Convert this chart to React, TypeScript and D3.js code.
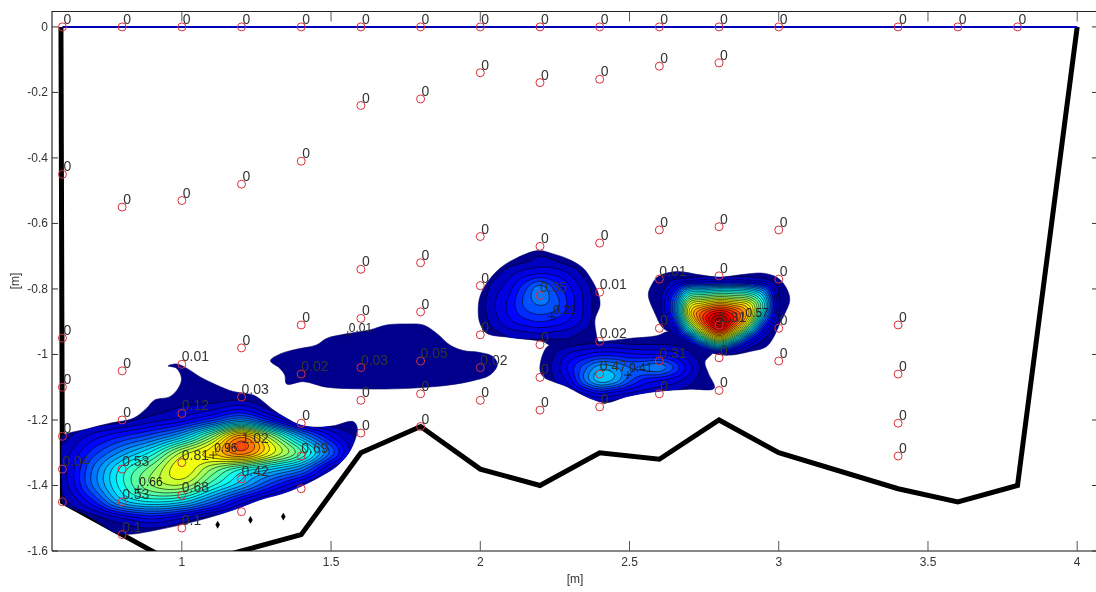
import React from "react";
import * as d3 from "d3";

const W = 1096, H = 592;
const xDomain = [0.565, 4.063];
const yDomain = [0.047, -1.6];
const xTicks = [1, 1.5, 2, 2.5, 3, 3.5, 4];
const xTickLabels = ["1", "1.5", "2", "2.5", "3", "3.5", "4"];
const yTicks = [0, -0.2, -0.4, -0.6, -0.8, -1, -1.2, -1.4, -1.6];
const yTickLabels = ["0", "-0.2", "-0.4", "-0.6", "-0.8", "-1", "-1.2", "-1.4", "-1.6"];

// section boundary
const wallX = [0.595, 0.6, 0.8, 1.0, 1.2, 1.4, 1.6, 1.8, 2.0, 2.2, 2.4, 2.6, 2.8, 3.0, 3.4, 3.6, 3.8, 4.0];
const wallY = [0, -1.45, -1.55, -1.65, -1.6, -1.55, -1.3, -1.22, -1.35, -1.4, -1.3, -1.32, -1.2, -1.3, -1.41, -1.45, -1.4, 0];
const surfaceX = [0.6, 4.0];
const surfaceY = [0, 0];
const stoneX = [1.12, 1.23, 1.34];
const stoneY = [-1.52, -1.505, -1.495];

// measurement points: [x, depth, label]
const col060: [number, number, string][] = [[0.6, 0, "0"], [0.6, -0.45, "0"], [0.6, -0.95, "0"], [0.6, -1.1, "0"], [0.6, -1.25, "0"], [0.6, -1.35, "0.04"], [0.6, -1.45, ""]];
const col080: [number, number, string][] = [[0.8, 0, "0"], [0.8, -0.55, "0"], [0.8, -1.05, "0"], [0.8, -1.2, "0"], [0.8, -1.35, "0.53"], [0.8, -1.45, "0.53"], [0.8, -1.55, "0.1"]];
const col100: [number, number, string][] = [[1, 0, "0"], [1, -0.53, "0"], [1, -1.03, "0.01"], [1, -1.18, "0.12"], [1, -1.33, "0.81"], [1, -1.43, "0.68"], [1, -1.53, "0.1"]];
const col120: [number, number, string][] = [[1.2, 0, "0"], [1.2, -0.48, "0"], [1.2, -0.98, "0"], [1.2, -1.13, "0.03"], [1.2, -1.28, "1.02"], [1.2, -1.38, "0.42"], [1.2, -1.48, ""]];
const col140: [number, number, string][] = [[1.4, 0, "0"], [1.4, -0.41, "0"], [1.4, -0.91, "0"], [1.4, -1.06, "0.02"], [1.4, -1.21, "0"], [1.4, -1.31, "0.69"], [1.4, -1.41, ""]];
const col160: [number, number, string][] = [[1.6, 0, "0"], [1.6, -0.24, "0"], [1.6, -0.74, "0"], [1.6, -0.89, "0"], [1.6, -1.04, "0.03"], [1.6, -1.14, "0"], [1.6, -1.24, "0"]];
const col180: [number, number, string][] = [[1.8, 0, "0"], [1.8, -0.22, "0"], [1.8, -0.72, "0"], [1.8, -0.87, "0"], [1.8, -1.02, "0.05"], [1.8, -1.12, "0"], [1.8, -1.22, "0"]];
const col200: [number, number, string][] = [[2, 0, "0"], [2, -0.14, "0"], [2, -0.64, "0"], [2, -0.79, "0"], [2, -0.94, "0"], [2, -1.04, "0.02"], [2, -1.14, "0"]];
const col220: [number, number, string][] = [[2.2, 0, "0"], [2.2, -0.17, "0"], [2.2, -0.67, "0"], [2.2, -0.82, "0.35"], [2.2, -0.97, "0"], [2.2, -1.07, "0"], [2.2, -1.17, "0"]];
const col240: [number, number, string][] = [[2.4, 0, "0"], [2.4, -0.16, "0"], [2.4, -0.66, "0"], [2.4, -0.81, "0.01"], [2.4, -0.96, "0.02"], [2.4, -1.06, "0.47"], [2.4, -1.16, "0"]];
const col260: [number, number, string][] = [[2.6, 0, "0"], [2.6, -0.12, "0"], [2.6, -0.62, "0"], [2.6, -0.77, "0.01"], [2.6, -0.92, "0"], [2.6, -1.02, "0.31"], [2.6, -1.12, "0"]];
const col280: [number, number, string][] = [[2.8, 0, "0"], [2.8, -0.11, "0"], [2.8, -0.61, "0"], [2.8, -0.76, "0"], [2.8, -0.91, "1.31"], [2.8, -1.01, "0"], [2.8, -1.11, "0"]];
const col300: [number, number, string][] = [[3, 0, "0"], [3, -0.62, "0"], [3, -0.77, "0"], [3, -0.92, "0"], [3, -1.02, "0"]];
const col340: [number, number, string][] = [[3.4, 0, "0"], [3.4, -0.91, "0"], [3.4, -1.06, "0"], [3.4, -1.21, "0"], [3.4, -1.31, "0"]];
const col36up: [number, number, string][] = [[3.6, 0, "0"], [3.8, 0, "0"]];
const allPoints = [...col060, ...col080, ...col100, ...col120, ...col140, ...col160, ...col180, ...col200, ...col220, ...col240, ...col260, ...col280, ...col300, ...col340, ...col36up];

// contour labels placed by hand: [x, depth, label, marked with +]
const contourLabels: [number, number, string, boolean][] = [
  [0.854, -1.411, "0.66", true],
  [1.105, -1.307, "0.96", true],
  [2.495, -1.063, "0.41", true],
  [1.556, -0.94, "0.01", true],
  [2.24, -0.885, "0.21", true],
  [2.885, -0.895, "0.57", false],
];

// blob 1: bottom-left plume
const outlineA: [number, number][] = [[0.597, -1.251], [0.68, -1.228], [0.759, -1.21], [0.837, -1.195], [0.882, -1.164], [0.909, -1.139], [0.96, -1.129], [0.988, -1.103], [0.999, -1.073], [0.982, -1.042], [0.954, -1.035], [0.982, -1.029], [1.016, -1.042], [1.06, -1.068], [1.116, -1.093], [1.172, -1.113], [1.239, -1.124], [1.273, -1.144], [1.306, -1.169], [1.351, -1.195], [1.396, -1.215], [1.451, -1.222], [1.507, -1.218], [1.574, -1.205], [1.588, -1.225], [1.58, -1.261], [1.558, -1.302], [1.518, -1.342], [1.463, -1.373], [1.396, -1.404], [1.34, -1.424], [1.261, -1.444], [1.172, -1.475], [1.083, -1.5], [0.993, -1.521], [0.915, -1.536], [0.837, -1.548], [0.781, -1.546], [0.725, -1.516], [0.669, -1.485], [0.602, -1.454], [0.6, -1.42], [0.598, -1.37], [0.597, -1.32], [0.597, -1.28]];
const gridAx = [0.6, 0.7, 0.8, 0.9, 1.0, 1.1, 1.2, 1.3, 1.4, 1.5, 1.6];
const gridAy = [-1.1, -1.15, -1.2, -1.25, -1.3, -1.35, -1.4, -1.45, -1.5, -1.55];
const gridAv = [
  [0, 0, 0, 0, 0, 0, 0, 0, 0, 0, 0],
  [0, 0, 0, 0.01, 0.04, 0.05, 0.08, 0.01, 0, 0, 0],
  [0, 0.01, 0.03, 0.08, 0.13, 0.23, 0.35, 0.18, 0.02, 0, 0],
  [0.03, 0.12, 0.2, 0.28, 0.42, 0.68, 0.98, 0.7, 0.38, 0.15, 0.03],
  [0.07, 0.22, 0.37, 0.52, 0.76, 0.88, 1.03, 0.82, 0.6, 0.28, 0.02],
  [0.08, 0.3, 0.52, 0.68, 0.84, 0.7, 0.55, 0.45, 0.33, 0.08, 0],
  [0.07, 0.3, 0.53, 0.7, 0.74, 0.56, 0.4, 0.22, 0.08, 0, 0],
  [0.03, 0.18, 0.42, 0.5, 0.46, 0.3, 0.12, 0.02, 0, 0, 0],
  [0, 0.02, 0.1, 0.16, 0.1, 0.02, 0, 0, 0, 0, 0],
  [0, 0, 0.01, 0.01, 0, 0, 0, 0, 0, 0, 0],
];

// blob 2: upper middle
const outlineB: [number, number][] = [[1.993, -0.864], [1.999, -0.823], [2.021, -0.783], [2.066, -0.737], [2.121, -0.706], [2.194, -0.683], [2.244, -0.693], [2.3, -0.711], [2.345, -0.737], [2.373, -0.772], [2.395, -0.813], [2.401, -0.849], [2.384, -0.895], [2.39, -0.945], [2.395, -0.971], [2.233, -0.971], [2.211, -0.961], [2.099, -0.948], [2.021, -0.935], [1.999, -0.905]];
const gridBx = [2.0, 2.05, 2.1, 2.15, 2.2, 2.25, 2.3, 2.35, 2.4];
const gridBy = [-0.7, -0.75, -0.8, -0.85, -0.9, -0.95];
const gridBv = [
  [0, 0, 0, 0.02, 0.05, 0.03, 0, 0, 0],
  [0, 0.03, 0.08, 0.12, 0.14, 0.13, 0.09, 0.03, 0],
  [0.02, 0.08, 0.14, 0.24, 0.33, 0.24, 0.16, 0.08, 0.01],
  [0.03, 0.1, 0.17, 0.26, 0.3, 0.27, 0.18, 0.09, 0.02],
  [0.02, 0.08, 0.14, 0.18, 0.2, 0.18, 0.14, 0.08, 0.01],
  [0, 0.02, 0.05, 0.06, 0.07, 0.06, 0.05, 0.02, 0],
];

// blob 3: lower middle
const outlineC: [number, number][] = [[2.2, -1.047], [2.211, -0.996], [2.233, -0.971], [2.401, -0.961], [2.501, -0.951], [2.591, -0.943], [2.635, -0.93], [2.702, -0.961], [2.78, -0.991], [2.753, -1.022], [2.764, -1.057], [2.784, -1.103], [2.702, -1.106], [2.591, -1.113], [2.49, -1.129], [2.423, -1.147], [2.367, -1.134], [2.289, -1.098], [2.211, -1.068]];
const gridCx = [2.2, 2.25, 2.3, 2.35, 2.4, 2.45, 2.5, 2.55, 2.6, 2.65, 2.7, 2.75, 2.8];
const gridCy = [-0.96, -1.0, -1.04, -1.08, -1.12, -1.16];
const gridCv = [
  [0, 0.01, 0.02, 0.03, 0.04, 0.04, 0.03, 0.03, 0.03, 0.03, 0.02, 0.01, 0],
  [0, 0.05, 0.11, 0.15, 0.18, 0.18, 0.16, 0.15, 0.15, 0.12, 0.06, 0.02, 0],
  [0, 0.07, 0.17, 0.28, 0.38, 0.36, 0.3, 0.31, 0.33, 0.24, 0.12, 0.03, 0],
  [0, 0.05, 0.13, 0.3, 0.42, 0.38, 0.26, 0.18, 0.15, 0.12, 0.07, 0.02, 0],
  [0, 0.01, 0.05, 0.1, 0.15, 0.12, 0.09, 0.07, 0.06, 0.04, 0.02, 0, 0],
  [0, 0, 0, 0.01, 0.02, 0.01, 0, 0, 0, 0, 0, 0, 0],
];

// blob 4: right peak
const outlineD: [number, number][] = [[2.563, -0.818], [2.574, -0.788], [2.596, -0.762], [2.658, -0.747], [2.736, -0.757], [2.803, -0.764], [2.87, -0.757], [2.948, -0.752], [2.998, -0.767], [3.026, -0.798], [3.037, -0.834], [3.021, -0.874], [3.004, -0.905], [2.987, -0.94], [2.959, -0.976], [2.903, -0.991], [2.836, -1.002], [2.78, -0.996], [2.725, -0.971], [2.658, -0.94], [2.613, -0.92], [2.585, -0.874]];
const gridDx = [2.55, 2.6, 2.65, 2.7, 2.75, 2.8, 2.85, 2.9, 2.95, 3.0, 3.05];
const gridDy = [-0.75, -0.775, -0.8, -0.825, -0.85, -0.875, -0.9, -0.925, -0.95, -0.975, -1.0];
const gridDv = [
  [0, 0, 0.01, 0.01, 0.02, 0.02, 0.02, 0.02, 0.01, 0, 0],
  [0, 0.01, 0.06, 0.1, 0.12, 0.12, 0.12, 0.11, 0.08, 0.01, 0],
  [0, 0.02, 0.15, 0.4, 0.42, 0.45, 0.45, 0.42, 0.3, 0.04, 0],
  [0, 0.03, 0.25, 0.62, 0.68, 0.72, 0.7, 0.66, 0.45, 0.05, 0],
  [0, 0.03, 0.3, 0.8, 0.92, 1.0, 0.95, 0.85, 0.52, 0.06, 0],
  [0, 0.02, 0.28, 0.85, 1.1, 1.22, 1.12, 0.9, 0.45, 0.05, 0],
  [0, 0.01, 0.2, 0.72, 1.1, 1.32, 1.12, 0.8, 0.3, 0.03, 0],
  [0, 0, 0.1, 0.5, 0.9, 1.15, 0.92, 0.55, 0.15, 0.01, 0],
  [0, 0, 0.04, 0.22, 0.6, 0.85, 0.6, 0.25, 0.06, 0, 0],
  [0, 0, 0.01, 0.07, 0.25, 0.45, 0.25, 0.08, 0.01, 0, 0],
  [0, 0, 0, 0.01, 0.04, 0.08, 0.04, 0.01, 0, 0, 0],
];

// blob 5: flat dark patch, below the first contour level
const outlineE: [number, number][] = [[1.297, -1.019], [1.328, -0.999], [1.384, -0.984], [1.451, -0.971], [1.485, -0.951], [1.552, -0.937], [1.63, -0.925], [1.686, -0.91], [1.753, -0.907], [1.809, -0.91], [1.853, -0.935], [1.898, -0.971], [1.943, -0.988], [1.999, -0.994], [2.043, -1.007], [2.057, -1.032], [2.032, -1.063], [1.976, -1.08], [1.898, -1.093], [1.82, -1.1], [1.708, -1.105], [1.596, -1.105], [1.485, -1.1], [1.407, -1.083], [1.351, -1.09], [1.345, -1.063], [1.328, -1.042]];

const levelStep = 0.05;
const colorMax = 1.35;
const jetStops = [0, 0.125, 0.375, 0.625, 0.875, 1];
const jetColors = ["#00008c", "#0000ff", "#00ffff", "#ffff00", "#ff0000", "#800000"];

const x = d3.scaleLinear().domain(xDomain).range([52, 1096]);
const y = d3.scaleLinear().domain(yDomain).range([11.5, 551]);
const jet = d3.scaleLinear<string>().domain(jetStops.map((s) => s * colorMax)).range(jetColors).clamp(true);
const levels = d3.range(levelStep, 1.4, levelStep);

function cr(p0: number, p1: number, p2: number, p3: number, t: number) {
  return 0.5 * (2 * p1 + (p2 - p0) * t + (2 * p0 - 5 * p1 + 4 * p2 - p3) * t * t + (3 * p1 - p0 - 3 * p2 + p3) * t * t * t);
}

// smooth a hand-read grid so that contour lines come out round
function upsample(v: number[][], f: number) {
  const rows = v.length, cols = v[0].length;
  const at = (r: number, c: number) => v[Math.max(0, Math.min(rows - 1, r))][Math.max(0, Math.min(cols - 1, c))];
  const ny = (rows - 1) * f + 1, nx = (cols - 1) * f + 1;
  const out = new Array(nx * ny).fill(0);
  for (let j = 0; j < ny; j++) {
    const r = Math.floor(j / f), ty = j / f - r;
    for (let i = 0; i < nx; i++) {
      const c = Math.floor(i / f), tx = i / f - c;
      const col = [-1, 0, 1, 2].map((dr) => cr(at(r + dr, c - 1), at(r + dr, c), at(r + dr, c + 1), at(r + dr, c + 2), tx));
      out[j * nx + i] = Math.max(0, cr(col[0], col[1], col[2], col[3], ty));
    }
  }
  return { out, nx, ny };
}

function Blob({ id, outline, gx, gy, gv }: { id: string; outline: [number, number][]; gx?: number[]; gy?: number[]; gv?: number[][] }) {
  const line = d3.line<[number, number]>().x((d) => x(d[0])).y((d) => y(d[1])).curve(d3.curveCatmullRomClosed.alpha(0.5));
  const outlinePath = line(outline) || "";
  let bands: { d: string; v: number }[] = [];
  if (gx && gy && gv) {
    const f = 8;
    const { out, nx, ny } = upsample(gv, f);
    const x0 = gx[0], dx = (gx[gx.length - 1] - gx[0]) / (nx - 1);
    const y0 = gy[0], dy = (gy[gy.length - 1] - gy[0]) / (ny - 1);
    const proj = d3.geoTransform({
      point(px: number, py: number) {
        (this as any).stream.point(x(x0 + (px - 0.5) * dx), y(y0 + (py - 0.5) * dy));
      },
    });
    const path = d3.geoPath(proj);
    bands = d3.contours().size([nx, ny]).thresholds(levels)(out).map((c) => ({ d: path(c as any) || "", v: c.value })).filter((b) => b.d);
  }
  return (
    <g>
      <clipPath id={id}><path d={outlinePath} /></clipPath>
      <path d={outlinePath} fill={jet(0)} stroke="#00006a" strokeWidth={0.6} />
      <g clipPath={`url(#${id})`}>
        {bands.map((b, i) => (
          <path key={i} d={b.d} fill={jet(b.v + levelStep / 2)} stroke="#000" strokeWidth={0.6} />
        ))}
      </g>
    </g>
  );
}

export default function App() {
  const wall = d3.line<number>().x((d) => x(wallX[d])).y((d) => y(wallY[d]));
  const surface = d3.line<number>().x((d) => x(surfaceX[d])).y((d) => y(surfaceY[d]));
  const txt = "#333";
  const font = "'Liberation Sans', Arial, sans-serif";
  return (
    <svg width={W} height={H} viewBox={`0 0 ${W} ${H}`} style={{ position: "fixed", left: 0, top: 0, background: "#fff", filter: "blur(0.35px)" }} fontFamily={font}>
      <clipPath id="plot"><rect x={52} y={11.5} width={1044} height={539.5} /></clipPath>
      <g clipPath="url(#plot)">
        <path d={wall(d3.range(wallX.length)) || ""} fill="none" stroke="#000" strokeWidth={5} strokeLinejoin="miter" />
        <Blob id="bE" outline={outlineE} />
        <Blob id="bA" outline={outlineA} gx={gridAx} gy={gridAy} gv={gridAv} />
        <Blob id="bB" outline={outlineB} gx={gridBx} gy={gridBy} gv={gridBv} />
        <Blob id="bC" outline={outlineC} gx={gridCx} gy={gridCy} gv={gridCv} />
        <Blob id="bD" outline={outlineD} gx={gridDx} gy={gridDy} gv={gridDv} />
        <path d={surface([0, 1]) || ""} fill="none" stroke="#0000b4" strokeWidth={2} />
        {stoneX.map((sx, i) => (
          <path key={i} d={d3.symbol().type(d3.symbolDiamond).size(18)() || ""} transform={`translate(${x(sx)},${y(stoneY[i])})`} fill="#000" />
        ))}
        {allPoints.map(([px, py], i) => (
          <circle key={i} cx={x(px)} cy={y(py)} r={4} fill="none" stroke="#d8303c" strokeWidth={1} />
        ))}
        {allPoints.map(([px, py, lab], i) => (
          <text key={i} x={x(px) + (lab === "0" ? 1 : 0)} y={y(py) - 3} fontSize={14} fill={txt}>{lab}</text>
        ))}
        {contourLabels.map(([px, py, lab, mark], i) => (
          <g key={i}>
            {mark && <path d={`M${x(px) - 4},${y(py)}H${x(px) + 4}M${x(px)},${y(py) - 4}V${y(py) + 4}`} stroke="#111" strokeWidth={0.8} />}
            <text x={x(px) + 1} y={y(py) - 3} fontSize={12} fill="#222">{lab}</text>
          </g>
        ))}
      </g>
      <line x1={52} x2={52} y1={11} y2={551} stroke="#7f7f7f" strokeWidth={2} />
      <line x1={52} x2={W} y1={11.5} y2={11.5} stroke="#222" />
      <line x1={52} x2={W} y1={551} y2={551} stroke="#111" />
      {xTicks.map((t, i) => (
        <g key={t} stroke="#555">
          <line x1={x(t)} x2={x(t)} y1={551} y2={541} />
          <line x1={x(t)} x2={x(t)} y1={11.5} y2={21.5} />
          <text x={x(t)} y={566} textAnchor="middle" fontSize={12} fill="#333" stroke="none">{xTickLabels[i]}</text>
        </g>
      ))}
      {yTicks.map((t, i) => (
        <g key={t} stroke="#333">
          <line x1={52} x2={58} y1={y(t)} y2={y(t)} />
          <line x1={1092} x2={W} y1={y(t)} y2={y(t)} />
          <text x={48} y={y(t) + 4} textAnchor="end" fontSize={12} fill="#333" stroke="none">{yTickLabels[i]}</text>
        </g>
      ))}
      <text x={575} y={583} textAnchor="middle" fontSize={12} fill="#333">[m]</text>
      <text transform="translate(19,281) rotate(-90)" textAnchor="middle" fontSize={12} fill="#333">[m]</text>
    </svg>
  );
}
